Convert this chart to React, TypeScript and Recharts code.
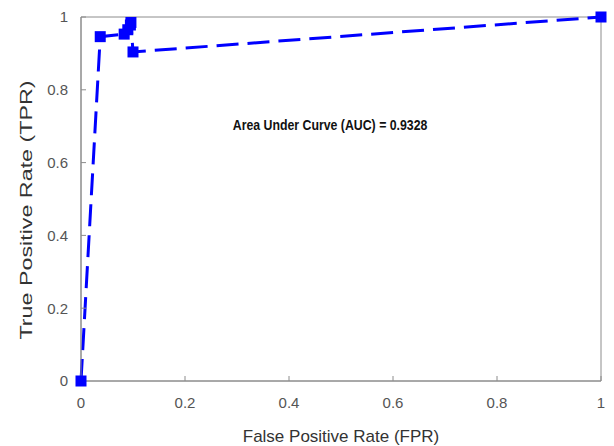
import React from 'react';
import { LineChart, Line, XAxis, YAxis, ReferenceArea } from 'recharts';

const fpr = [0, 0.037, 0.083, 0.09, 0.095, 0.096, 0.1, 1];
const tpr = [0, 0.946, 0.953, 0.965, 0.978, 0.985, 0.904, 1];
const ticks = [0, 0.2, 0.4, 0.6, 0.8, 1];
const aucText = 'Area Under Curve (AUC) = 0.9328';
const xTitle = 'False Positive Rate (FPR)';
const yTitle = 'True Positive Rate (TPR)';

const data = fpr.map((x, i) => ({ x, y: tpr[i] }));

const AXIS = '#8c8c8c';
const FONT = '"Liberation Sans", Arial, sans-serif';

const SquareDot = (props: any) => {
  const { cx, cy } = props;
  if (cx == null || cy == null) return null;
  return <rect x={cx - 5.5} y={cy - 5.5} width={11} height={11} fill="#0000ff" />;
};

const fmt = (v: number) => (v === 0 || v === 1 ? String(v) : v.toFixed(1));

// y title is drawn a bit stretched along its length, like the source image
const YTitle = (props: any) => {
  const vb = props.viewBox || {};
  const cx = vb.x + 26;
  const cy = vb.y + vb.height / 2 + 11;
  return (
    <text
      transform={`translate(${cx},${cy}) rotate(-90) scale(1.37,1)`}
      textAnchor="middle"
      dominantBaseline="central"
      fill="#333"
      fontSize={17}
      fontFamily={FONT}
    >
      {yTitle}
    </text>
  );
};

const XTitle = (props: any) => {
  const vb = props.viewBox || {};
  const cx = vb.x + vb.width / 2;
  return (
    <text
      x={cx}
      y={436}
      textAnchor="middle"
      dominantBaseline="central"
      fill="#333"
      fontSize={17}
      fontFamily={FONT}
    >
      {xTitle}
    </text>
  );
};

const AucLabel = (props: any) => {
  const vb = props.viewBox || {};
  const cx = vb.x + vb.width / 2;
  const cy = vb.y + vb.height / 2;
  return (
    <text
      transform={`translate(${cx},${cy}) scale(0.85,1)`}
      textAnchor="middle"
      dominantBaseline="central"
      fill="#111"
      fontSize={14.5}
      fontWeight="bold"
      fontFamily={FONT}
    >
      {aucText}
    </text>
  );
};

export default function App() {
  return (
    <div style={{ position: 'absolute', left: 0, top: 0, fontFamily: FONT }}>
      <LineChart
        width={614}
        height={446}
        data={data}
        margin={{ top: 17, right: 13, bottom: 0, left: 0 }}
      >
        <XAxis
          dataKey="x"
          type="number"
          domain={[0, 1]}
          ticks={ticks}
          tickFormatter={fmt}
          height={65}
          stroke={AXIS}
          tickSize={-5}
          tickMargin={21}
          tick={{ fill: '#555', fontSize: 15, fontFamily: FONT }}
          label={<XTitle />}
        />
        <YAxis
          type="number"
          domain={[0, 1]}
          ticks={ticks}
          tickFormatter={fmt}
          width={81}
          stroke={AXIS}
          tickSize={-5}
          tickMargin={18}
          tick={{ fill: '#555', fontSize: 15, fontFamily: FONT }}
          label={<YTitle />}
        />
        <ReferenceArea x1={0} x2={1} y1={0} y2={1} fill="none" stroke={AXIS} strokeWidth={1} />
        <ReferenceArea
          x1={0.379}
          x2={0.579}
          y1={0.703}
          y2={0.703}
          fill="none"
          stroke="none"
          label={<AucLabel />}
        />
        <Line
          dataKey="y"
          type="linear"
          stroke="#0000ff"
          strokeWidth={3}
          strokeDasharray="22 9"
          dot={<SquareDot />}
          activeDot={false}
          isAnimationActive={false}
        />
      </LineChart>
    </div>
  );
}
